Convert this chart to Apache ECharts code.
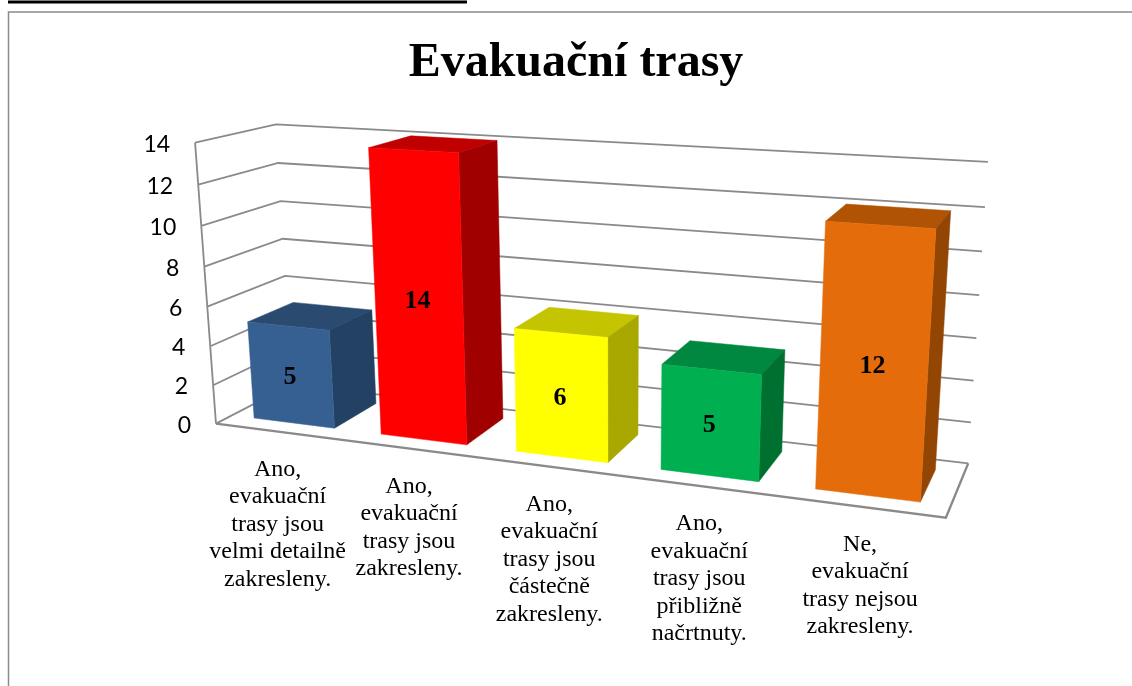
<!DOCTYPE html>
<html><head><meta charset="utf-8">
<style>html,body{margin:0;padding:0;background:#fff}#c{width:1132px;height:686px}</style>
<script src="https://cdn.jsdelivr.net/npm/echarts@6/dist/echarts.min.js"></script>
</head><body><div id="c"></div>
<script>
const chartTitle = 'Evakuační trasy';
const categories = [
  'Ano,\nevakuační\ntrasy jsou\nvelmi detailně\nzakresleny.',
  'Ano,\nevakuační\ntrasy jsou\nzakresleny.',
  'Ano,\nevakuační\ntrasy jsou\nčástečně\nzakresleny.',
  'Ano,\nevakuační\ntrasy jsou\npřibližně\nnačrtnuty.',
  'Ne,\nevakuační\ntrasy nejsou\nzakresleny.'
];
const values = [5, 14, 6, 5, 12];
const tickLabels = [0, 2, 4, 6, 8, 10, 12, 14];

const frontColors = ['#376092', '#ff0000', '#ffff00', '#00b050', '#e46c0a'];
const topColors = ['#2b4a70', '#c00000', '#c4c400', '#008740', '#b05305'];
const sideColors = ['#234162', '#a00000', '#a8a800', '#007030', '#934604'];

// Camera calibration: unit-box corner -> picture position
const cameraAnchors = [
  [0, 0, 0, 215, 423], [0, 1, 0, 196, 143], [0, 1, 1, 275, 124], [0, 0, 1, 292.5, 385],
  [1, 1, 1, 988, 162], [1, 0, 1, 968, 463], [1, 0, 0, 946, 518]
];
function solve(A, b) {
  const n = b.length, M = A.map((r, i) => r.concat(b[i]));
  for (let i = 0; i < n; i++) {
    let p = i;
    for (let k = i + 1; k < n; k++) if (Math.abs(M[k][i]) > Math.abs(M[p][i])) p = k;
    [M[i], M[p]] = [M[p], M[i]];
    for (let k = i + 1; k < n; k++) {
      const f = M[k][i] / M[i][i];
      for (let j = i; j <= n; j++) M[k][j] -= f * M[i][j];
    }
  }
  const x = new Array(n).fill(0);
  for (let i = n - 1; i >= 0; i--) {
    let s = M[i][n];
    for (let j = i + 1; j < n; j++) s -= M[i][j] * x[j];
    x[i] = s / M[i][i];
  }
  return x;
}
function fitCamera(anchors) {
  const rows = [], rhs = [];
  anchors.forEach(([X, Y, Z, px, py]) => {
    const u = px / 1000, v = py / 1000;
    rows.push([X, Y, Z, 1, 0, 0, 0, 0, -u * X, -u * Y, -u * Z]); rhs.push(u);
    rows.push([0, 0, 0, 0, X, Y, Z, 1, -v * X, -v * Y, -v * Z]); rhs.push(v);
  });
  const n = 11, N = [], B = [];
  for (let i = 0; i < n; i++) {
    N.push(new Array(n).fill(0)); B.push(0);
    rows.forEach((r, k) => {
      for (let j = 0; j < n; j++) N[i][j] += r[i] * r[j];
      B[i] += r[i] * rhs[k];
    });
  }
  return solve(N, B);
}
const cam = fitCamera(cameraAnchors);
function camProject(X, Y, Z) {
  const w = cam[8] * X + cam[9] * Y + cam[10] * Z + 1;
  return [1000 * (cam[0] * X + cam[1] * Y + cam[2] * Z + cam[3]) / w,
          1000 * (cam[4] * X + cam[5] * Y + cam[6] * Z + cam[7]) / w];
}
// Axis value -> hidden cartesian pixel -> unit box -> perspective picture position
function projector(params, api) {
  const r = params.coordSys;
  return (cat, val, depth) => {
    const p = api.coord([cat, val]);
    return camProject((p[0] - r.x) / r.width, (r.y + r.height - p[1]) / r.height, depth);
  };
}
const AXIS_COL = '#8a8a8a';
const line = (pts, w) => ({ type: 'polyline', shape: { points: pts }, style: { stroke: AXIS_COL, lineWidth: w || 1.8, fill: null } });
const face = (pts, col) => ({ type: 'polygon', shape: { points: pts }, style: { fill: col, stroke: col, lineWidth: 0.5 } });

const GAP = 0.18, Z0 = 0.2, Z1 = 0.8;

const option = {
  animation: false,
  backgroundColor: '#fff',
  title: {
    text: chartTitle, left: 571, top: 35, textAlign: 'center',
    textStyle: { fontFamily: 'Liberation Serif', fontWeight: 'bold', fontSize: 48, color: '#000' }
  },
  grid: { left: 0, top: 0, width: 1132, height: 686, containLabel: false },
  xAxis: { type: 'value', min: 0, max: 5, interval: 1, show: false },
  yAxis: { type: 'value', min: 0, max: 14, interval: 2, show: false },
  graphic: [
    { type: 'line', shape: { x1: 8, y1: 2, x2: 467, y2: 2 }, style: { stroke: '#000', lineWidth: 3 } },
    { type: 'polyline', shape: { points: [[8.5, 686], [8.5, 12], [1132, 12]] }, style: { stroke: '#8a8a8a', lineWidth: 1.5, fill: null } }
  ],
  series: [
    {
      type: 'custom', coordinateSystem: 'cartesian2d', clip: false, z: 1,
      data: tickLabels.map(t => [0, t]),
      renderItem(params, api) {
        const P = projector(params, api), t = api.value(1);
        const a = P(0, t, 0), b = P(0, t, 1), c = P(5, t, 1);
        const kids = [line([a, b, c])];
        if (t === 0) {
          kids.push(line([P(0, 0, 0), P(5, 0, 0), P(5, 0, 1)], 2.4));
          kids.push(line([P(0, 0, 0), P(0, 14, 0)]));
        }
        kids.push({
          type: 'text',
          style: { text: String(t), x: a[0] - 25, y: a[1] + 1.5, align: 'right', verticalAlign: 'middle',
            textAlign: 'right', textVerticalAlign: 'middle', fill: '#000', font: '23px Lato' }
        });
        return { type: 'group', children: kids };
      }
    },
    {
      type: 'custom', coordinateSystem: 'cartesian2d', clip: false, z: 2,
      data: values.map((v, i) => [i, v]),
      renderItem(params, api) {
        const P = projector(params, api), i = api.value(0), v = api.value(1);
        const x0 = i + GAP, x1 = i + 1 - GAP;
        const kids = [
          face([P(x0, v, Z0), P(x1, v, Z0), P(x1, v, Z1), P(x0, v, Z1)], topColors[i]),
          face([P(x1, 0, Z0), P(x1, v, Z0), P(x1, v, Z1), P(x1, 0, Z1)], sideColors[i]),
          face([P(x0, 0, Z0), P(x1, 0, Z0), P(x1, v, Z0), P(x0, v, Z0)], frontColors[i])
        ];
        const m = P(i + 0.5, v / 2, Z0);
        kids.push({
          type: 'text',
          style: { text: String(v), x: m[0] - 1, y: m[1] + 2.5, align: 'center', verticalAlign: 'middle',
            textAlign: 'center', textVerticalAlign: 'middle', fill: '#000', font: 'bold 26px "Liberation Serif"' }
        });
        return { type: 'group', children: kids };
      }
    },
    {
      type: 'custom', coordinateSystem: 'cartesian2d', clip: false, z: 3,
      data: categories.map((c, i) => [i, 0]),
      renderItem(params, api) {
        const P = projector(params, api), i = api.value(0);
        const p = P(i + 0.5, 0, 0);
        return {
          type: 'text',
          style: { text: categories[i], x: p[0] - 1, y: p[1] + 24, align: 'center', verticalAlign: 'top',
            textAlign: 'center', textVerticalAlign: 'top', fill: '#000', font: '24px "Liberation Serif"', lineHeight: 27.5 }
        };
      }
    }
  ]
};
const chart = echarts.init(document.getElementById('c'), null, { renderer: 'canvas' });
chart.setOption(option);
</script></body></html>
